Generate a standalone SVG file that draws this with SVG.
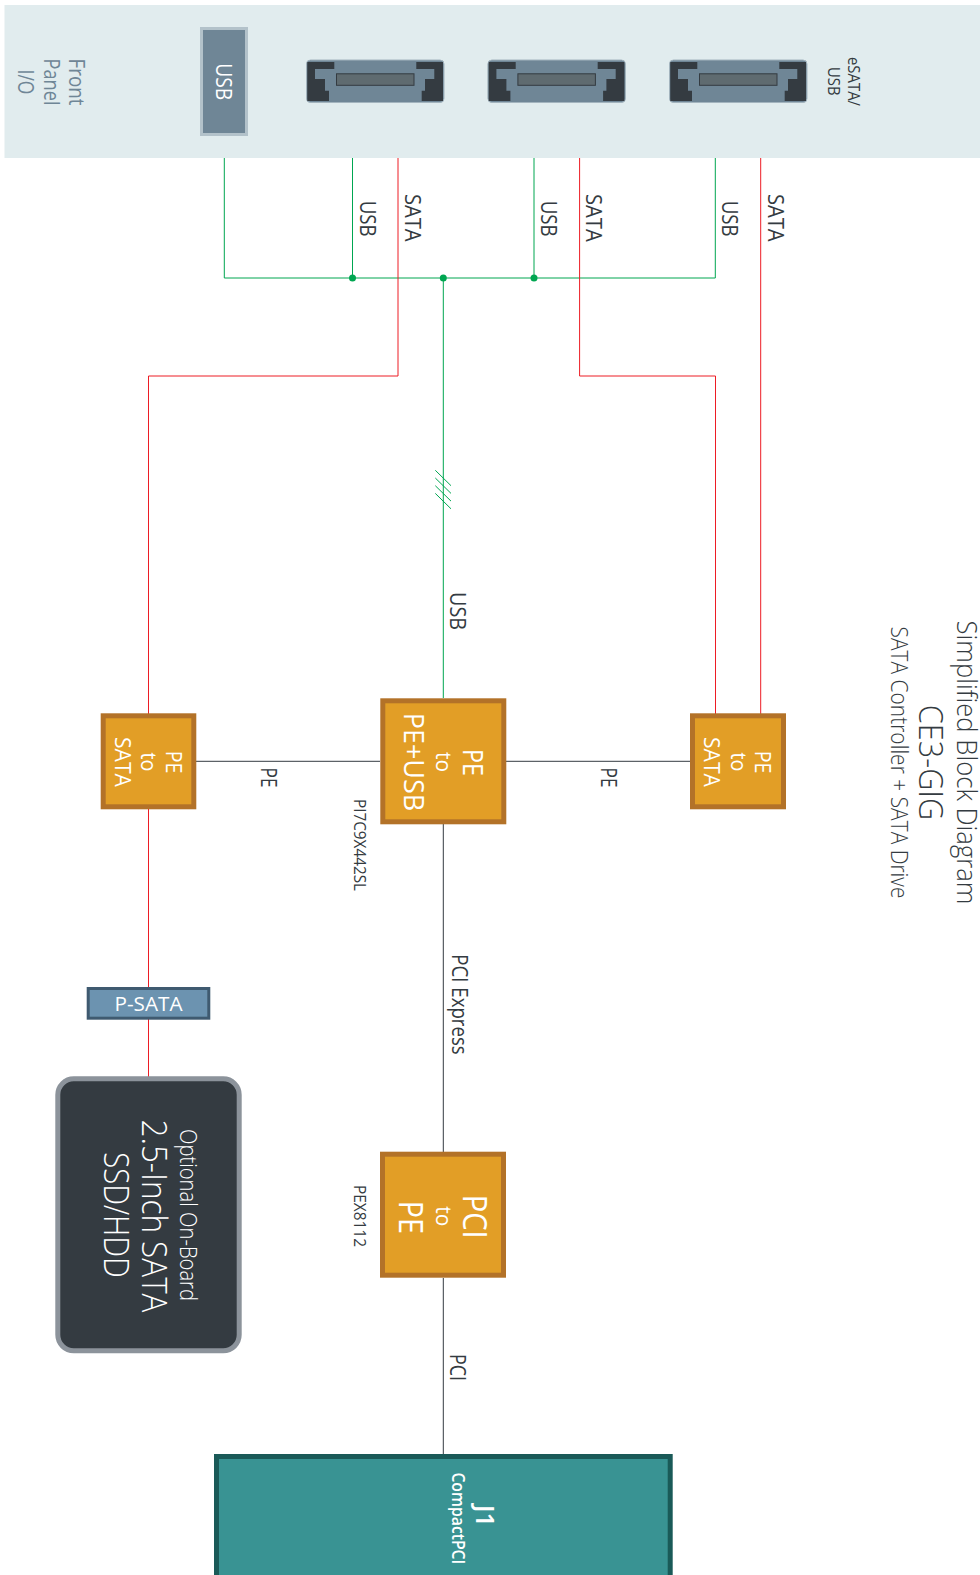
<svg xmlns="http://www.w3.org/2000/svg" width="980" height="1575" viewBox="0 0 980 1575">
<style>
text{font-family:"Open Sans","Noto Sans","Liberation Sans",sans-serif;text-anchor:middle;fill:#343b41}
.w{fill:#fff}
.m{fill:#6f8696}
.l{font-size:22px}
.s{font-size:16.8px}
.g{fill:none;stroke:#00a651;stroke-width:1}
.r{fill:none;stroke:#ed1c24;stroke-width:1}
.k{fill:none;stroke:#343b41;stroke-width:1}
.chip{fill:#e29e26;stroke:#b37228;stroke-width:5}
</style>
<defs>
<g id="esata">
<rect x="306.5" y="60" width="137.5" height="42.5" rx="4" fill="#6f8696" stroke="#a3b4be" stroke-width="1"/>
<path fill="#343b41" d="M307.3 62H334.3V69H315V79H325V90.7H329V101H307.3ZM416.3 62H443V101H421.7V90.7H425V79H434.3V69H416.3Z"/>
<rect x="336.5" y="73.8" width="77.5" height="11.5" fill="#5f6b70" stroke="#343b41" stroke-width="1"/>
</g>
</defs>
<rect id="panel" x="4.5" y="5" width="975.5" height="153" fill="#e1ecee"/>
<g id="connectors">
<path class="g" d="M224.3 158V278H715.3V158M352.5 158V278M534 158V278M443.3 278V698"/>
<path class="g" d="M435.3 470.3L451 485.7M435.3 478L451 493.4M435.3 485.7L451 501.1M435.3 493.4L451 508.8"/>
<path class="r" d="M398 158V376H148.5V714M579.6 158V376H715.5V714M760.7 158V714M148.5 809V1077"/>
<path class="k" d="M196 761.3H380M506 761.3H690M443.3 824V1152M443.3 1278V1454"/>
<g fill="#00a651"><circle cx="352.5" cy="278" r="3.5"/><circle cx="443.3" cy="278" r="3.5"/><circle cx="534" cy="278" r="3.5"/></g>
</g>
<g id="front-panel-label">
<text class="l m" transform="rotate(90 68.5 82)" x="68.5" y="82" textLength="47" lengthAdjust="spacingAndGlyphs">Front</text>
<text class="l m" transform="rotate(90 43.5 82)" x="43.5" y="82" textLength="47" lengthAdjust="spacingAndGlyphs">Panel</text>
<text class="l m" transform="rotate(90 18 82)" x="18" y="82" textLength="25" lengthAdjust="spacingAndGlyphs">I/O</text>
</g>
<g id="usb-port">
<rect x="201.5" y="28.5" width="45" height="106" fill="#6f8696" stroke="#b3c2ca" stroke-width="3"/>
<text class="l w" transform="rotate(90 216 81.8)" x="216" y="81.8" textLength="37" lengthAdjust="spacingAndGlyphs">USB</text>
</g>
<g id="esata-1"><use href="#esata"/></g>
<g id="esata-2"><use href="#esata" x="181.4"/></g>
<g id="esata-3"><use href="#esata" x="363"/></g>
<g id="esata-label">
<text class="s" transform="rotate(90 847.5 81.5)" x="847.5" y="81.5" textLength="49" lengthAdjust="spacingAndGlyphs">eSATA/</text>
<text class="s" transform="rotate(90 828 81.3)" x="828" y="81.3" textLength="28.5" lengthAdjust="spacingAndGlyphs">USB</text>
</g>
<g id="connector-labels">
<text class="l" transform="rotate(90 359.5 218.7)" x="359.5" y="218.7" textLength="36" lengthAdjust="spacingAndGlyphs">USB</text>
<text class="l" transform="rotate(90 404.5 217.8)" x="404.5" y="217.8" textLength="47.7" lengthAdjust="spacingAndGlyphs">SATA</text>
<text class="l" transform="rotate(90 540.5 218.7)" x="540.5" y="218.7" textLength="36" lengthAdjust="spacingAndGlyphs">USB</text>
<text class="l" transform="rotate(90 585.7 217.8)" x="585.7" y="217.8" textLength="47.7" lengthAdjust="spacingAndGlyphs">SATA</text>
<text class="l" transform="rotate(90 722 218.7)" x="722" y="218.7" textLength="36" lengthAdjust="spacingAndGlyphs">USB</text>
<text class="l" transform="rotate(90 767.5 217.8)" x="767.5" y="217.8" textLength="47.7" lengthAdjust="spacingAndGlyphs">SATA</text>
<text class="l" transform="rotate(90 450 611)" x="450" y="611" textLength="38" lengthAdjust="spacingAndGlyphs">USB</text>
<text class="l" transform="rotate(90 261 777.5)" x="261" y="777.5" textLength="20" lengthAdjust="spacingAndGlyphs">PE</text>
<text class="l" transform="rotate(90 601 777.5)" x="601" y="777.5" textLength="20" lengthAdjust="spacingAndGlyphs">PE</text>
<text class="l" transform="rotate(90 452 1004.5)" x="452" y="1004.5" textLength="100.5" lengthAdjust="spacingAndGlyphs">PCI Express</text>
<text class="l" transform="rotate(90 450 1367.5)" x="450" y="1367.5" textLength="27" lengthAdjust="spacingAndGlyphs">PCI</text>
<text class="s" transform="rotate(90 353.5 845)" x="353.5" y="845" textLength="92" lengthAdjust="spacingAndGlyphs">PI7C9X442SL</text>
<text class="s" transform="rotate(90 353.5 1216)" x="353.5" y="1216" textLength="62" lengthAdjust="spacingAndGlyphs">PEX8112</text>
</g>
<g id="pe-sata-left">
<rect class="chip" x="103.2" y="715.8" width="90.6" height="91"/>
<g class="l">
<text class="w" transform="rotate(90 166 762)" x="166" y="762" textLength="22.5" lengthAdjust="spacingAndGlyphs">PE</text>
<text class="w" transform="rotate(90 140.5 762)" x="140.5" y="762" textLength="19" lengthAdjust="spacingAndGlyphs">to</text>
<text class="w" transform="rotate(90 114.5 762)" x="114.5" y="762" textLength="50" lengthAdjust="spacingAndGlyphs">SATA</text>
</g>
</g>
<g id="pe-usb">
<rect class="chip" x="382.8" y="700.8" width="121" height="121"/>
<g style="font-size:27px">
<text class="w" transform="rotate(90 462.5 762.5)" x="462.5" y="762.5" textLength="27" lengthAdjust="spacingAndGlyphs">PE</text>
<text class="w" style="font-size:22px" transform="rotate(90 436 762)" x="436" y="762" textLength="20" lengthAdjust="spacingAndGlyphs">to</text>
<text class="w" transform="rotate(90 403.5 762)" x="403.5" y="762" textLength="98.5" lengthAdjust="spacingAndGlyphs">PE+USB</text>
</g>
</g>
<g id="pe-sata-right">
<rect class="chip" x="692.5" y="715.8" width="91" height="91"/>
<g class="l">
<text class="w" transform="rotate(90 755 762)" x="755" y="762" textLength="22.5" lengthAdjust="spacingAndGlyphs">PE</text>
<text class="w" transform="rotate(90 731 762)" x="731" y="762" textLength="19" lengthAdjust="spacingAndGlyphs">to</text>
<text class="w" transform="rotate(90 703.5 762)" x="703.5" y="762" textLength="50" lengthAdjust="spacingAndGlyphs">SATA</text>
</g>
</g>
<g id="pci-pe">
<rect class="chip" x="382.5" y="1154.2" width="121" height="121"/>
<g style="font-size:32px">
<text class="w" transform="rotate(90 463 1216.7)" x="463" y="1216.7" textLength="44" lengthAdjust="spacingAndGlyphs">PCI</text>
<text class="w" style="font-size:22px" transform="rotate(90 435.7 1216.2)" x="435.7" y="1216.2" textLength="20" lengthAdjust="spacingAndGlyphs">to</text>
<text class="w" transform="rotate(90 399 1217.3)" x="399" y="1217.3" textLength="33" lengthAdjust="spacingAndGlyphs">PE</text>
</g>
</g>
<g id="p-sata">
<rect x="88.2" y="988.5" width="120.6" height="29.7" fill="#6c93b0" stroke="#3f5a70" stroke-width="3"/>
<text class="w" style="font-size:20.5px" x="148.5" y="1010.7" textLength="68" lengthAdjust="spacingAndGlyphs">P-SATA</text>
</g>
<g id="drive">
<rect x="57.8" y="1078.8" width="181.4" height="272" rx="16" fill="#343b41" stroke="#8c939b" stroke-width="5"/>
<text class="w" style="font-size:23px;font-weight:300" transform="rotate(90 179.5 1215)" x="179.5" y="1215" textLength="172" lengthAdjust="spacingAndGlyphs">Optional On-Board</text>
<text class="w" style="font-size:35px;font-weight:300" transform="rotate(90 142 1216)" x="142" y="1216" textLength="193" lengthAdjust="spacingAndGlyphs">2.5-Inch SATA</text>
<text class="w" style="font-size:34px;font-weight:300" transform="rotate(90 103.5 1215)" x="103.5" y="1215" textLength="125.5" lengthAdjust="spacingAndGlyphs">SSD/HDD</text>
</g>
<g id="j1">
<rect x="216.5" y="1456.5" width="453.7" height="130" fill="#399393" stroke="#1a5a58" stroke-width="5"/>
<text class="w" style="font-size:26px;font-weight:600" transform="rotate(90 476 1516)" x="476" y="1516" textLength="22" lengthAdjust="spacingAndGlyphs">J1</text>
<text class="w" style="font-size:17.5px;font-weight:600" transform="rotate(90 451.5 1518.4)" x="451.5" y="1518.4" textLength="92" lengthAdjust="spacingAndGlyphs">CompactPCI</text>
</g>
<g id="title">
<text style="font-size:27px;font-weight:300" transform="rotate(90 957 762.5)" x="957" y="762.5" textLength="284" lengthAdjust="spacingAndGlyphs">Simplified Block Diagram</text>
<text style="font-size:33px;font-weight:300" transform="rotate(90 919 762.5)" x="919" y="762.5" textLength="115.5" lengthAdjust="spacingAndGlyphs">CE3-GIG</text>
<text style="font-size:23px;font-weight:300" transform="rotate(90 891 762.5)" x="891" y="762.5" textLength="272" lengthAdjust="spacingAndGlyphs">SATA Controller + SATA Drive</text>
</g>
</svg>
